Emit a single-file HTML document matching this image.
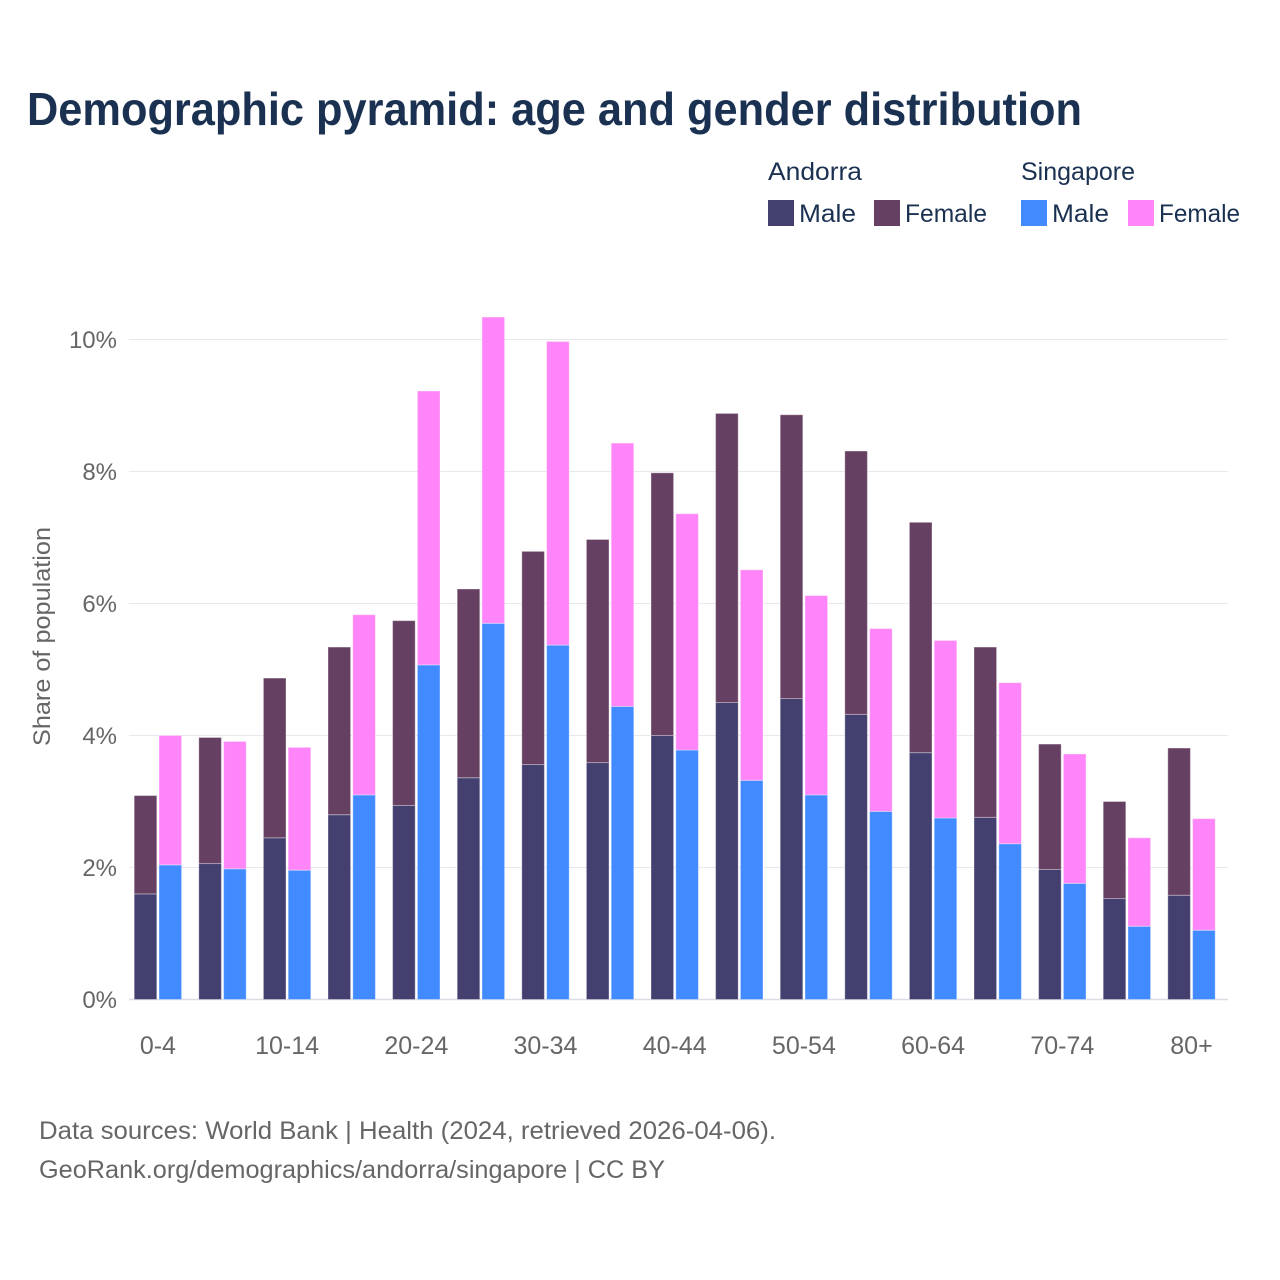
<!DOCTYPE html>
<html lang="en">
<head>
<meta charset="utf-8">
<title>Demographic pyramid</title>
<style>
html,body{margin:0;padding:0;background:#fff;}
svg{display:block;font-family:"Liberation Sans",sans-serif;}
</style>
</head>
<body>
<svg id="chart" xmlns="http://www.w3.org/2000/svg" width="1280" height="1280" viewBox="0 0 1280 1280">
  <rect x="0" y="0" width="1280" height="1280" fill="#ffffff"/>
  <text x="27" y="125" font-size="46" font-weight="700" fill="#1a3152" textLength="1055" lengthAdjust="spacingAndGlyphs">Demographic pyramid: age and gender distribution</text>

  <g font-size="25" fill="#1a3152">
    <text x="768" y="180" textLength="94" lengthAdjust="spacingAndGlyphs">Andorra</text>
    <text x="1021" y="180" textLength="114" lengthAdjust="spacingAndGlyphs">Singapore</text>
    <rect x="768" y="200" width="26" height="26" fill="#433f6f"/>
    <text x="799" y="222" textLength="57" lengthAdjust="spacingAndGlyphs">Male</text>
    <rect x="874" y="200" width="26" height="26" fill="#664062"/>
    <text x="905" y="222" textLength="82" lengthAdjust="spacingAndGlyphs">Female</text>
    <rect x="1021" y="200" width="26" height="26" fill="#418aff"/>
    <text x="1052" y="222" textLength="57" lengthAdjust="spacingAndGlyphs">Male</text>
    <rect x="1128" y="200" width="26" height="26" fill="#ff85f8"/>
    <text x="1159" y="222" textLength="81" lengthAdjust="spacingAndGlyphs">Female</text>
  </g>

  <g id="grid"></g>
  <g id="yticks" font-size="24" fill="#666666" text-anchor="end"></g>
  <text transform="translate(50 636.5) rotate(-90)" font-size="24" fill="#666666" text-anchor="middle" textLength="219" lengthAdjust="spacingAndGlyphs">Share of population</text>
  <g id="bars"></g>
  <g id="xticks" font-size="25" fill="#666666" text-anchor="middle"></g>

  <g font-size="25" fill="#666666">
    <text x="39" y="1139" textLength="737" lengthAdjust="spacingAndGlyphs">Data sources: World Bank | Health (2024, retrieved 2026-04-06).</text>
    <text x="39" y="1178" textLength="626" lengthAdjust="spacingAndGlyphs">GeoRank.org/demographics/andorra/singapore | CC BY</text>
  </g>
</svg>
<script>
const ageGroups = ["0-4","5-9","10-14","15-19","20-24","25-29","30-34","35-39","40-44","45-49","50-54","55-59","60-64","65-69","70-74","75-79","80+"];
const andorraMale = [1.60,2.06,2.45,2.80,2.94,3.36,3.56,3.59,4.00,4.50,4.56,4.32,3.74,2.76,1.97,1.53,1.58];
const andorraFemale = [1.49,1.91,2.42,2.54,2.80,2.86,3.23,3.38,3.98,4.38,4.30,3.99,3.49,2.58,1.90,1.47,2.23];
const singaporeMale = [2.04,1.98,1.96,3.10,5.07,5.70,5.37,4.44,3.78,3.32,3.10,2.85,2.75,2.36,1.76,1.11,1.05];
const singaporeFemale = [1.96,1.93,1.86,2.73,4.15,4.64,4.60,3.99,3.58,3.19,3.02,2.77,2.69,2.44,1.96,1.34,1.69];
const yTicks = [0,2,4,6,8,10];
const xTickLabels = ["0-4","10-14","20-24","30-34","40-44","50-54","60-64","70-74","80+"];

const NS = "http://www.w3.org/2000/svg";
const plotLeft = 129, plotRight = 1228, zeroY = 999.5, pxPerUnit = 66;
const firstCenter = 157.9, bandStep = 64.6;
const barWidth = 22.6;
const barGap = 1.1;

function yScale(v){ return zeroY - v * pxPerUnit; }
function bandCenter(i){ return firstCenter + bandStep * i; }
function make(tag, attrs){
  const el = document.createElementNS(NS, tag);
  for (const k in attrs) el.setAttribute(k, attrs[k]);
  return el;
}

const grid = document.getElementById("grid");
const yTickGroup = document.getElementById("yticks");
yTicks.forEach(function(t){
  const line = make("line", {x1: plotLeft, x2: plotRight, y1: yScale(t), y2: yScale(t), stroke: t === 0 ? "#dcdce4" : "#e8e8ee", "stroke-width": t === 0 ? 1.5 : 1});
  
  
  grid.appendChild(line);
  const label = make("text", {x: 117, y: yScale(t) + 8.5});
  
  
  label.textContent = t + "%";
  yTickGroup.appendChild(label);
});

const barsGroup = document.getElementById("bars");
function drawSegment(x, base, value, color, name){
  const top = yScale(base + value);
  const rect = make("rect", {x: x, y: top, width: barWidth, height: yScale(base) - top, fill: color, stroke: "#ffffff", "stroke-opacity": 0.35, "stroke-width": 1});
  
  
  barsGroup.appendChild(rect);
}
ageGroups.forEach(function(age, i){
  const c = bandCenter(i);
  const xA = c - barGap - barWidth;
  const xS = c + barGap;
  drawSegment(xA, 0, andorraMale[i], "#433f6f", "bar-andorra-male");
  drawSegment(xA, andorraMale[i], andorraFemale[i], "#664062", "bar-andorra-female");
  drawSegment(xS, 0, singaporeMale[i], "#418aff", "bar-singapore-male");
  drawSegment(xS, singaporeMale[i], singaporeFemale[i], "#ff85f8", "bar-singapore-female");
});

const xTickGroup = document.getElementById("xticks");
xTickLabels.forEach(function(lbl){
  const label = make("text", {x: bandCenter(ageGroups.indexOf(lbl)), y: 1054});
  
  
  label.textContent = lbl;
  xTickGroup.appendChild(label);
});
</script>
</body>
</html>
